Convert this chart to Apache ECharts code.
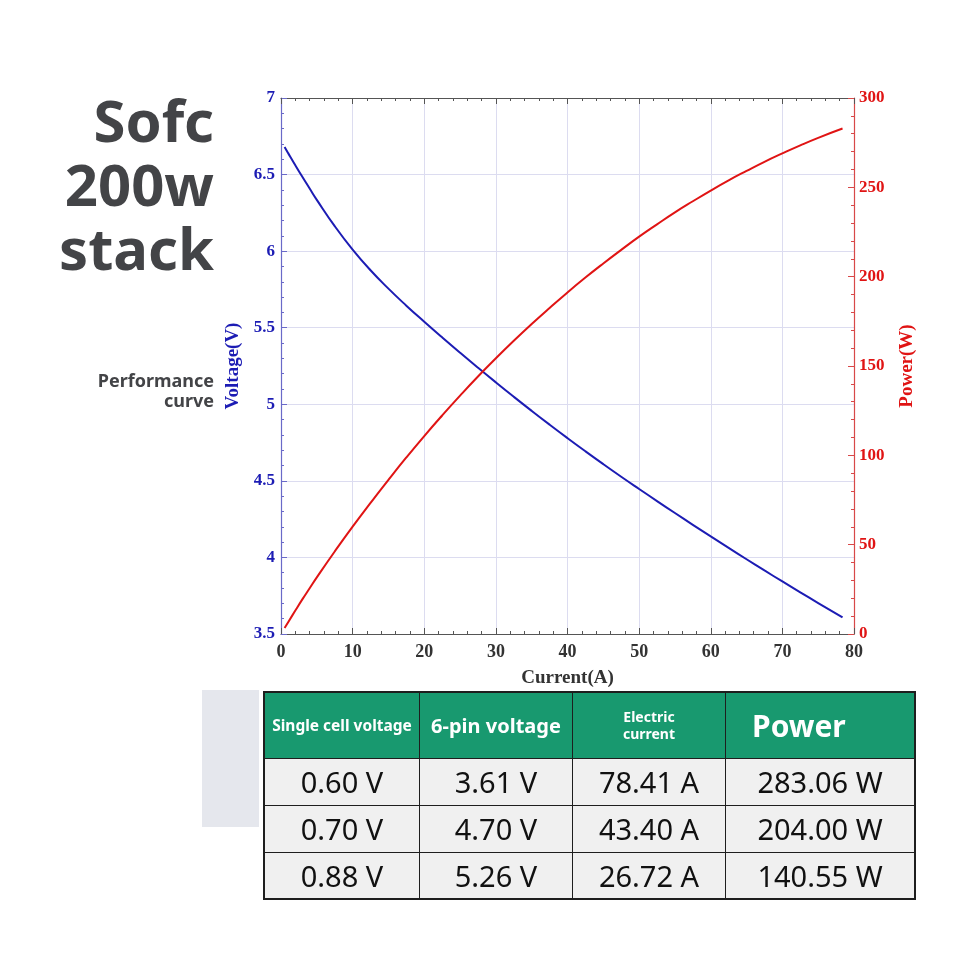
<html lang="en">
<head>
    <meta http-equiv="Content-Type" content="text/html; charset=utf-8" />
    <title>Sofc 200w stack</title>
    <script src="https://cdn.jsdelivr.net/npm/echarts@6/dist/echarts.min.js"></script>
    <style>
        body { margin:0; padding:0; background:#fff; overflow:hidden; }
        #main { position:absolute; left:0; top:0; width:960px; height:960px; }
        #sidebox { position:absolute; left:202px; top:690px; width:57px; height:137px; background:#e5e7ed; }
        #spec { position:absolute; left:263px; top:691px; border-collapse:collapse; border:2px solid #1e1e1e;
                table-layout:fixed; font-family:"Noto Sans","Open Sans",sans-serif; }
        #spec td { border:1.5px solid #1e1e1e; text-align:center; padding:0; }
        #spec tr.head td { background:#18996f; color:#fff; font-weight:bold; height:66px; }
        #spec tr.row td { background:#f0f0f0; color:#111; font-size:29px; height:47px; }
    </style>
</head>
<body>
<div id="main"></div>
<div id="sidebox"></div>
<table id="spec">
    <tr class="head">
        <td style="width:154px;font-size:15.5px">Single cell voltage</td>
        <td style="width:152px;font-size:20px">6-pin voltage</td>
        <td style="width:152px;font-size:14px;line-height:17px">Electric<br>current</td>
        <td style="width:162px;font-size:30px;text-align:left;padding-left:26px">Power</td>
    </tr>
</table>

<script type="text/javascript">
    // table rows
    var cellVoltage = ['0.60 V', '0.70 V', '0.88 V'];
    var pinVoltage = ['3.61 V', '4.70 V', '5.26 V'];
    var elecCurrent = ['78.41 A', '43.40 A', '26.72 A'];
    var powerOut = ['283.06 W', '204.00 W', '140.55 W'];

    // curve readings (current in A)
    var current = [0.5, 1, 2, 3, 4, 5, 7.5, 10, 12.5, 15, 17.5, 20, 22.5, 25, 27.5, 30, 32.5, 35, 37.5, 40,
        42.5, 45, 47.5, 50, 52.5, 55, 57.5, 60, 62.5, 65, 67.5, 70, 72.5, 75, 78.4];
    var voltage = [6.680, 6.640, 6.561, 6.484, 6.409, 6.335, 6.163, 6.010, 5.875, 5.755, 5.644, 5.539, 5.437,
        5.337, 5.239, 5.143, 5.049, 4.957, 4.867, 4.779, 4.693, 4.609, 4.527, 4.447, 4.368, 4.290, 4.213,
        4.137, 4.062, 3.988, 3.915, 3.843, 3.772, 3.702, 3.608];
    var power = [3.3, 6.6, 13.1, 19.5, 25.6, 31.7, 46.2, 60.1, 73.4, 86.3, 98.8, 110.8, 122.3, 133.4, 144.1,
        154.3, 164.1, 173.5, 182.5, 191.2, 199.5, 207.4, 215.0, 222.4, 229.3, 236.0, 242.2, 248.2, 253.9,
        259.2, 264.3, 269.0, 273.5, 277.7, 282.9];

    var xTicks = [0, 80, 10];
    var vTicks = [3.5, 7, 0.5];
    var pTicks = [0, 300, 50];

    var rowsHtml = '';
    for (var i = 0; i < cellVoltage.length; i++) {
        rowsHtml += '<tr class="row"><td>' + cellVoltage[i] + '</td><td>' + pinVoltage[i] + '</td><td>' +
            elecCurrent[i] + '</td><td>' + powerOut[i] + '</td></tr>';
    }
    document.querySelector('#spec tbody').insertAdjacentHTML('beforeend', rowsHtml);

    var vData = current.map(function (c, i) { return [c, voltage[i]]; });
    var pData = current.map(function (c, i) { return [c, power[i]]; });

    var serif = '"Liberation Serif","Times New Roman",serif';
    var blue = '#1c1cb4';
    var red = '#e01414';

    var myChart = echarts.init(document.getElementById('main'));
    var option = {
        backgroundColor: '#fff',
        animation: false,
        grid: { left: 281, right: 106, top: 98, bottom: 326, containLabel: false },
        graphic: [
            {
                type: 'text', x: 214, y: 93,
                style: { text: 'Sofc\n200w\nstack', font: 'bold 58px "Noto Sans"', fill: '#434447',
                    lineHeight: 64, align: 'right' }
            },
            {
                type: 'text', x: 214, y: 372,
                style: { text: 'Performance\ncurve', font: 'bold 18px "Noto Sans"', fill: '#434447',
                    lineHeight: 20, align: 'right' }
            }
        ],
        xAxis: [
            {
                type: 'value', min: xTicks[0], max: xTicks[1], interval: xTicks[2],
                name: 'Current(A)', nameLocation: 'middle', nameGap: 35,
                nameTextStyle: { fontFamily: serif, fontWeight: 'bold', fontSize: 19, color: '#333' },
                axisLine: { onZero: false, lineStyle: { color: '#555', width: 1.2 } },
                axisTick: { inside: true, length: 6, lineStyle: { color: '#555' } },
                minorTick: { show: true, splitNumber: 5, length: 3, lineStyle: { color: '#555' } },
                axisLabel: { fontFamily: serif, fontWeight: 'bold', fontSize: 18, color: '#333', margin: 9 },
                splitLine: { show: true, lineStyle: { color: '#dcdcf0', width: 1 } }
            },
            {
                type: 'value', position: 'top', min: xTicks[0], max: xTicks[1], interval: xTicks[2],
                axisLine: { show: true, onZero: false, lineStyle: { color: '#555', width: 1.2 } },
                axisTick: { show: true, inside: true, length: 6, lineStyle: { color: '#555' } },
                minorTick: { show: true, splitNumber: 5, length: 3, lineStyle: { color: '#555' } },
                axisLabel: { show: false },
                splitLine: { show: false }
            }
        ],
        yAxis: [
            {
                type: 'value', min: vTicks[0], max: vTicks[1], interval: vTicks[2],
                name: 'Voltage(V)', nameLocation: 'middle', nameGap: 32, nameRotate: 90,
                nameTextStyle: { fontFamily: serif, fontWeight: 'bold', fontSize: 19, color: blue },
                axisLine: { show: true, onZero: false, lineStyle: { color: '#6a6ac8', width: 1.2 } },
                axisTick: { show: true, inside: true, length: 6, lineStyle: { color: '#6a6ac8' } },
                minorTick: { show: true, splitNumber: 5, length: 3, lineStyle: { color: '#6a6ac8' } },
                axisLabel: { fontFamily: serif, fontWeight: 'bold', fontSize: 17, color: blue, margin: 6 },
                splitLine: { show: true, lineStyle: { color: '#dcdcf0', width: 1 } }
            },
            {
                type: 'value', position: 'right', min: pTicks[0], max: pTicks[1], interval: pTicks[2],
                name: 'Power(W)', nameLocation: 'middle', nameGap: 44, nameRotate: 90,
                nameTextStyle: { fontFamily: serif, fontWeight: 'bold', fontSize: 19, color: red },
                axisLine: { show: true, onZero: false, lineStyle: { color: '#d84848', width: 1.2 } },
                axisTick: { show: true, inside: true, length: 6, lineStyle: { color: '#d84848' } },
                minorTick: { show: true, splitNumber: 5, length: 3, lineStyle: { color: '#d84848' } },
                axisLabel: { fontFamily: serif, fontWeight: 'bold', fontSize: 17, color: red, margin: 5 },
                splitLine: { show: false }
            }
        ],
        series: [
            {
                name: 'Voltage', type: 'line', xAxisIndex: 0, yAxisIndex: 0, data: vData,
                smooth: true, showSymbol: false, lineStyle: { color: blue, width: 2 }
            },
            {
                name: 'Power', type: 'line', xAxisIndex: 0, yAxisIndex: 1, data: pData,
                smooth: true, showSymbol: false, lineStyle: { color: red, width: 2 }
            }
        ]
    };
    myChart.setOption(option);
</script>
</body>
</html>
